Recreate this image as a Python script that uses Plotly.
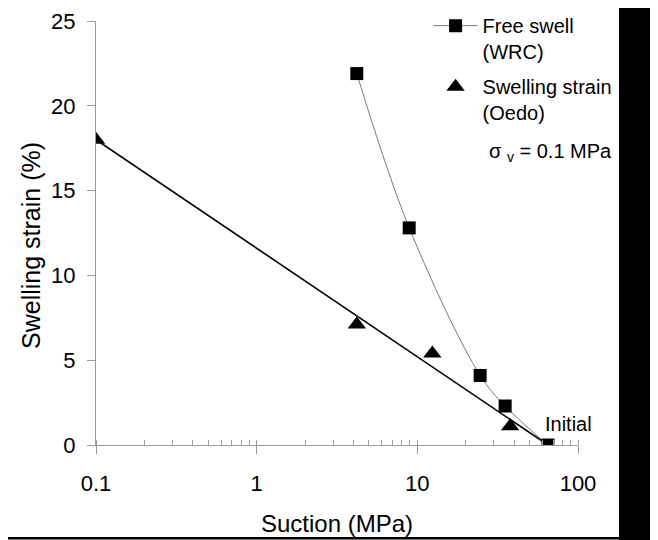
import plotly.graph_objects as go
import numpy as np

# ---- data ----
fs_suction = [4.2, 8.9, 24.6, 35.2, 65.0]      # Free swell (WRC)
fs_strain = [21.9, 12.8, 4.1, 2.3, 0.0]
oedo_suction = [0.1, 4.2, 12.4, 37.8]          # Swelling strain (Oedo)
oedo_strain = [18.0, 7.1, 5.4, 1.1]
fit_suction = [0.1, 65.0]                      # straight trend line
fit_strain = [18.0, 0.0]
x_tickvals = [0.1, 1, 10, 100]
x_ticktext = ["0.1", "1", "10", "100"]
y_tickvals = [0, 5, 10, 15, 20, 25]

FONT = "Liberation Sans, Arial, sans-serif"
AX = "#9a9a9a"

fig = go.Figure()
fig.add_trace(go.Scatter(x=fit_suction, y=fit_strain, mode="lines",
                         line=dict(color="black", width=1.6), showlegend=False,
                         hoverinfo="skip"))
fig.add_trace(go.Scatter(x=fs_suction, y=fs_strain, mode="lines+markers",
                         name="Free swell<br>(WRC)",
                         line=dict(color="#7a7a7a", width=1, shape="spline", smoothing=1),
                         marker=dict(symbol="square", size=13, color="black"),
                         legendgroup="a"))
fig.add_trace(go.Scatter(x=oedo_suction, y=oedo_strain, mode="markers",
                         name="Swelling strain<br>(Oedo)",
                         marker=dict(symbol="triangle-up", size=16, color="black"),
                         legendgroup="b"))

# the page adds an 8px body margin, so the figure is 8px smaller than the window
fig.update_layout(
    width=650, height=532,
    margin=dict(l=88, r=80, t=13, b=95, autoexpand=False),
    paper_bgcolor="white", plot_bgcolor="white",
    font=dict(family=FONT, color="black", size=20),
    showlegend=True,
    legend=dict(x=0.690, y=1.035, xanchor="left", yanchor="top",
                bgcolor="rgba(0,0,0,0)", font=dict(size=20, family=FONT),
                valign="top", tracegroupgap=6, itemwidth=44),
    xaxis=dict(type="log", range=[-1, 2], tickvals=x_tickvals, ticktext=x_ticktext,
               ticks="outside", ticklen=8, tickcolor=AX, tickwidth=1,
               showline=True, linecolor=AX, linewidth=1, showgrid=False, zeroline=False,
               tickfont=dict(size=22, family=FONT), ticklabelstandoff=11,
               minor=dict(ticks="inside", ticklen=5, tickcolor=AX, dtick="D1", showgrid=False),
               title=dict(text="Suction (MPa)", font=dict(size=24, family=FONT), standoff=19)),
    xaxis2=dict(type="log", range=[-1, 2], overlaying="x", anchor="y", side="bottom",
                tickvals=x_tickvals, showticklabels=False, ticks="inside", ticklen=5,
                tickcolor=AX, showline=False, showgrid=False, zeroline=False),
    yaxis=dict(range=[0, 25], tickvals=y_tickvals, ticks="outside", ticklen=8,
               tickcolor=AX, tickwidth=1, showline=True, linecolor=AX, linewidth=1,
               showgrid=False, zeroline=False, tickfont=dict(size=22, family=FONT),
               ticklabelstandoff=7),
)

fig.add_annotation(x=(31 - 96) / 482, y=(445 - 246) / 424, xref="paper", yref="paper",
                   text="Swelling strain (%)", textangle=-90, showarrow=False,
                   xanchor="center", yanchor="middle", font=dict(size=25, family=FONT))
fig.add_annotation(x=np.log10(fs_suction[-1]), y=fs_strain[-1], xref="x", yref="y",
                   text="Initial", showarrow=False, xanchor="left", yanchor="bottom",
                   xshift=-5, yshift=8, font=dict(size=20, family=FONT))
fig.add_annotation(x=(487 - 96) / 482, y=(445 - 152) / 424, xref="paper", yref="paper",
                   text="σ <sub>v</sub> = 0.1 MPa", showarrow=False, xanchor="left",
                   yanchor="middle", font=dict(size=20, family=FONT))

# black frame pieces of the original figure
fig.add_shape(type="rect", xref="paper", yref="paper",
              x0=(619 - 96) / 482, x1=(670 - 96) / 482, y0=(445 - 560) / 424, y1=(445 - 0) / 424,
              fillcolor="black", line=dict(width=0))
fig.add_shape(type="line", xref="paper", yref="paper",
              x0=(0 - 96) / 482, x1=(619 - 96) / 482, y0=(445 - 538.3) / 424, y1=(445 - 538.3) / 424,
              line=dict(color="black", width=2.5))

fig.write_html("out.html")
